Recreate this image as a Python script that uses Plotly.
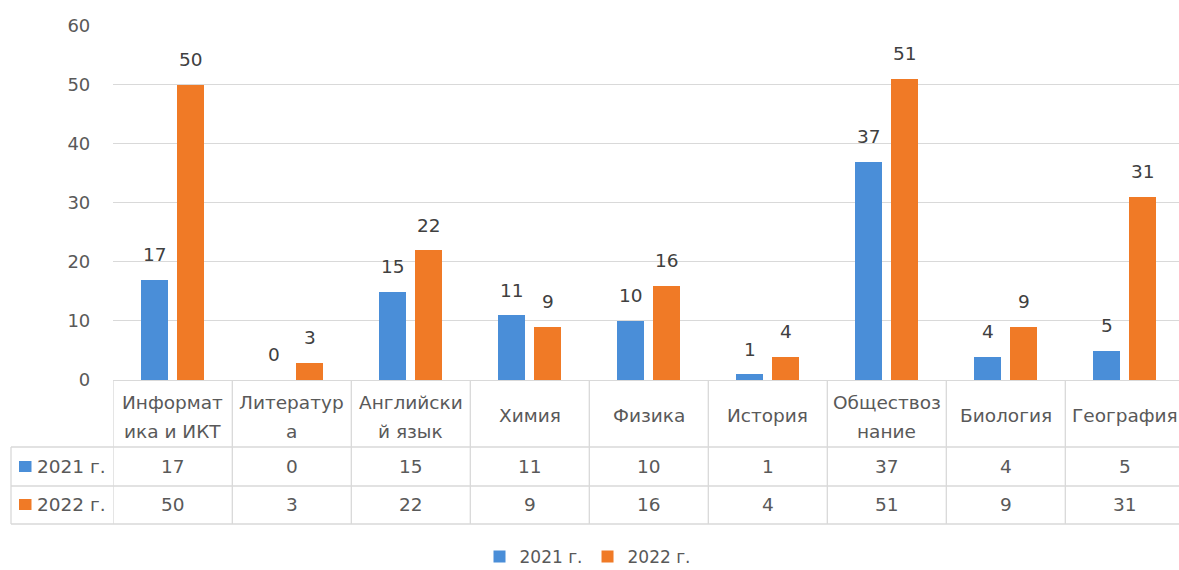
import plotly.graph_objects as go

categories = ["Информатика и ИКТ", "Литература", "Английский язык", "Химия", "Физика",
              "История", "Обществознание", "Биология", "География"]
category_lines = [["Информат", "ика и ИКТ"], ["Литератур", "а"], ["Английски", "й язык"],
                  ["Химия"], ["Физика"], ["История"], ["Обществоз", "нание"],
                  ["Биология"], ["География"]]
series_names = ["2021 г.", "2022 г."]
values_2021 = [17, 0, 15, 11, 10, 1, 37, 4, 5]
values_2022 = [50, 3, 22, 9, 16, 4, 51, 9, 31]
y_ticks = [0, 10, 20, 30, 40, 50, 60]

W, H = 1179, 570
BLUE = "#4a8ed8"
ORANGE = "#f07a26"
GRID = "#d9d9d9"
TXT = "#595959"
FONT = "DejaVu Sans"
FS = 18.5

def py(p):
    return 1 - p / H

def pxp(p):
    return p / W

plot_left = 113.3
cat_w = 119.0
idx = list(range(len(categories)))
bar_w = 0.23
offsets = [-0.265, 0.035]
series_vals = [values_2021, values_2022]
colors = [BLUE, ORANGE]

fig = go.Figure()
for s in range(2):
    fig.add_trace(go.Bar(
        x=idx, y=series_vals[s], name=series_names[s],
        width=bar_w, offset=offsets[s],
        marker=dict(color=colors[s], line=dict(width=0)),
        hoverinfo="skip",
    ))

ann = []
# data labels above bars
for s in range(2):
    for i, v in zip(idx, series_vals[s]):
        ann.append(dict(x=i + offsets[s] + bar_w / 2, y=v, xref="x", yref="y",
                        text=str(v), showarrow=False, yanchor="middle", yshift=25,
                        font=dict(family=FONT, size=FS, color="#404040")))

# data table: category header row
for i, lines in zip(idx, category_lines):
    ys = [402, 431] if len(lines) == 2 else [415]
    for t, yp in zip(lines, ys):
        ann.append(dict(x=i, y=py(yp), xref="x", yref="paper", text=t, showarrow=False,
                        xanchor="center", yanchor="middle",
                        font=dict(family=FONT, size=FS, color=TXT)))

# data table: value rows
row_y = [466.5, 504.5]
for s in range(2):
    for i, v in zip(idx, series_vals[s]):
        ann.append(dict(x=i, y=py(row_y[s]), xref="x", yref="paper", text=str(v),
                        showarrow=False, xanchor="center", yanchor="middle",
                        font=dict(family=FONT, size=FS, color=TXT)))
    ann.append(dict(x=pxp(35), y=py(row_y[s]), xref="paper", yref="paper",
                    text=series_names[s], showarrow=False, xanchor="left", yanchor="middle",
                    font=dict(family=FONT, size=FS, color=TXT)))

shapes = []
line_style = dict(color=GRID, width=1.3)
for k in range(len(categories) + 1):
    shapes.append(dict(type="line", xref="x", yref="paper", x0=k - 0.5, x1=k - 0.5,
                       y0=py(380), y1=py(524), line=line_style, layer="below"))
for yp in [447, 486, 524]:
    shapes.append(dict(type="line", xref="paper", yref="paper", x0=pxp(11), x1=1,
                       y0=py(yp), y1=py(yp), line=line_style))
shapes.append(dict(type="line", xref="paper", yref="paper", x0=pxp(11), x1=pxp(11),
                   y0=py(447), y1=py(524), line=line_style))
for s in range(2):
    shapes.append(dict(type="rect", xref="paper", yref="paper",
                       x0=pxp(19), x1=pxp(31.5), y0=py(row_y[s] + 5.5), y1=py(row_y[s] - 5.5),
                       fillcolor=colors[s], line=dict(width=0)))

fig.update_layout(
    width=W, height=H,
    margin=dict(l=0, r=0, t=0, b=0, autoexpand=False),
    paper_bgcolor="white", plot_bgcolor="white",
    showlegend=True,
    legend=dict(orientation="h", x=pxp(588), xanchor="center", y=py(557), yanchor="middle",
                font=dict(family=FONT, size=17, color=TXT), itemwidth=30,
                bgcolor="rgba(0,0,0,0)"),
    xaxis=dict(domain=[pxp(plot_left), 1], range=[-0.5, -0.5 + (W - plot_left) / cat_w],
               showticklabels=False, showgrid=False, zeroline=False, automargin=False,
               showline=True, linecolor=GRID, linewidth=1.3, ticks=""),
    yaxis=dict(domain=[py(380), py(25.6)], range=[0, 60], tickvals=y_ticks,
               showgrid=True, gridcolor=GRID, gridwidth=1.3, zeroline=False,
               showline=False, ticks="", ticklabelstandoff=22, automargin=False,
               tickfont=dict(family=FONT, size=18, color=TXT)),
    annotations=ann, shapes=shapes,
    bargap=0,
)

fig.write_html("out.html", config={"displayModeBar": False},
               post_script="document.body.style.margin='0';")
